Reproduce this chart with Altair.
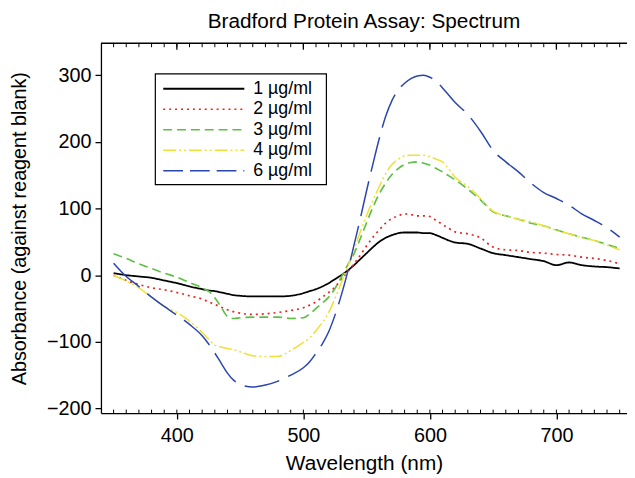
import altair as alt
import pandas as pd

FONT = "Liberation Sans"

# ---------------- data ----------------
series = ["1 µg/ml", "2 µg/ml", "3 µg/ml", "4 µg/ml", "6 µg/ml"]
colors = ["#000000", "#e8231f", "#5cbf45", "#efe03a", "#2a45ad"]
widths = [1.8, 1.5, 1.5, 1.6, 1.5]
dashes = [[1, 0], [2, 4], [9, 5], [13, 3, 2, 3, 2, 3], [36, 10]]
legend_dashes = [[1, 0], [2, 4], [9, 5], [13, 3, 2, 3, 2, 3], [20, 7]]

wavelengths = [350, 360, 370, 380, 390, 400, 410, 420,
               425, 430, 435, 440, 445, 450,
               460, 470, 480, 490, 500,
               505, 510, 515, 520, 525, 530, 535, 540, 545, 550, 555, 560,
               565, 570, 575, 580, 585, 590, 595, 600, 605, 610, 615, 620,
               630, 640, 650, 660, 670, 680, 690, 700, 710, 720, 730, 740, 750]

ug1 = [3, 0, -2, -4, -8, -12, -17, -21,
       -23, -24, -26, -28, -30, -31,
       -32, -32, -32, -31, -27,
       -24, -21, -17, -12, -6, 0, 7, 15, 24, 33, 42, 50,
       56, 60, 63, 64, 64, 64, 63, 63, 60, 56, 52, 49,
       47, 40, 33, 30, 27, 24, 21, 15, 19, 15, 13, 12, 10]

ug2 = [0, -8, -14, -19, -22, -26, -31, -36,
       -40, -44, -48, -52, -55, -57,
       -59, -58, -56, -53, -49,
       -45, -40, -33, -26, -18, -6, 5, 17, 30, 44, 57, 68,
       78, 85, 89, 92, 91, 89, 89, 88, 82, 76, 70, 65,
       62, 56, 42, 38, 37, 34, 33, 31, 30, 27, 25, 22, 17]

ug3 = [32, 25, 17, 10, 3, -3, -11, -19,
       -24, -34, -48, -62, -65, -64,
       -63, -63, -63, -65, -64,
       -58, -50, -42, -33, -20, -3, 15, 32, 55, 79, 102, 122,
       138, 151, 160, 166, 169, 170, 168, 165, 160, 155, 149, 143,
       129, 113, 95, 89, 84, 78, 74, 68, 62, 57, 52, 46, 40]

ug4 = [0, -9, -19, -33, -47, -56, -69, -86,
       -96, -105, -108, -110, -112, -115,
       -121, -122, -122, -113, -101,
       -94, -83, -71, -56, -35, -11, 12, 38, 65, 90, 112, 133,
       152, 166, 174, 179, 180, 180, 180, 178, 174, 170, 159, 147,
       133, 115, 96, 89, 84, 80, 74, 67, 62, 56, 52, 45, 38]

ug6 = [18, -2, -17, -33, -47, -60, -74, -91,
       -103, -117, -132, -147, -158, -164,
       -168, -165, -159, -150, -139,
       -130, -117, -103, -85, -60, -30, 5, 45, 85, 127, 167, 205,
       238, 262, 278, 288, 295, 299, 300, 297, 291, 281, 270, 259,
       241, 216, 187, 170, 155, 138, 124, 115, 105, 92, 82, 71, 57]

minor_ticks = [350, 360, 370, 380, 390, 400, 410, 420, 430, 440, 450, 460, 470,
               480, 490, 500, 510, 520, 530, 540, 550, 560, 570, 580, 590, 600,
               610, 620, 630, 640, 650, 660, 670, 680, 690, 700, 710, 720, 730,
               740, 750]
major_ticks = [400, 500, 600, 700]
y_ticks = [-200, -100, 0, 100, 200, 300]

rows = []
for name, vals in zip(series, [ug1, ug2, ug3, ug4, ug6]):
    for wl, v in zip(wavelengths, vals):
        rows.append({"wl": wl, "value": v, "series": name})
df = pd.DataFrame(rows)
minor_df = pd.DataFrame({"wl": minor_ticks})
major_df = pd.DataFrame({"wl": major_ticks})
legend_df = pd.DataFrame({"series": series})
one_df = pd.DataFrame({"a": [0]})

# ---------------- layout ----------------
W, H = 532, 374

x_scale = alt.Scale(domain=[340, 755.8], nice=False, zero=False)
y_scale = alt.Scale(domain=[-207, 348], nice=False, zero=False)
x_axis = alt.Axis(values=major_ticks, title="Wavelength (nm)", tickSize=6,
                  labelPadding=7, titlePadding=7, titleFontSize=21, grid=False, format="d")
X = alt.X("wl:Q", scale=x_scale, axis=x_axis)

color_enc = alt.Color("series:N", scale=alt.Scale(domain=series, range=colors), legend=None)
width_enc = alt.StrokeWidth("series:N", scale=alt.Scale(domain=series, range=widths), legend=None)

lines = alt.Chart(df).mark_line(interpolate="monotone", clip=True).encode(
    x=X,
    y=alt.Y("value:Q", scale=y_scale,
            axis=alt.Axis(values=y_ticks, title="Absorbance (against reagent blank)",
                          tickSize=6, labelPadding=4, titlePadding=17, grid=False)),
    color=color_enc,
    strokeWidth=width_enc,
    strokeDash=alt.StrokeDash("series:N", scale=alt.Scale(domain=series, range=dashes), legend=None),
)

top_minor = alt.Chart(minor_df).mark_rule(color="black", strokeWidth=1).encode(
    x=X, y=alt.value(0), y2=alt.value(4))
top_major = alt.Chart(major_df).mark_rule(color="black", strokeWidth=1.3).encode(
    x=X, y=alt.value(0), y2=alt.value(6.5))
bottom_minor = alt.Chart(minor_df).mark_rule(color="black", strokeWidth=1).encode(
    x=X, y=alt.value(H), y2=alt.value(H - 3.5))
top_line = alt.Chart(one_df).mark_rule(color="black", strokeWidth=1.3).encode(
    x=alt.value(0), x2=alt.value(W), y=alt.value(0))

legend_box = alt.Chart(one_df).mark_rect(fillOpacity=0, stroke="black", strokeWidth=1.2).encode(
    x=alt.value(55), x2=alt.value(228), y=alt.value(31), y2=alt.value(143))

LY = alt.Y("series:N", scale=alt.Scale(type="point", domain=series, range=[46, 129], padding=0), axis=None)
legend_lines = alt.Chart(legend_df).mark_rule().encode(
    x=alt.value(63), x2=alt.value(145), y=LY, color=color_enc, strokeWidth=width_enc,
    strokeDash=alt.StrokeDash("series:N", scale=alt.Scale(domain=series, range=legend_dashes), legend=None))
legend_text = alt.Chart(legend_df).mark_text(align="left", baseline="middle", fontSize=18,
                                             font=FONT, color="black").encode(
    x=alt.value(154), y=LY, text="series:N")

chart = alt.layer(
    lines, top_minor, top_major, bottom_minor, top_line, legend_box, legend_lines, legend_text
).resolve_scale(
    y="independent", strokeDash="independent"
).properties(
    width=W, height=H,
    padding={"left": 94, "top": 33, "right": 0, "bottom": 62},
    autosize=alt.AutoSizeParams(type="none"),
    title=alt.Title("Bradford Protein Assay: Spectrum", font=FONT, fontSize=21,
                    fontWeight="normal", color="black", anchor="middle",
                    baseline="top", offset=11),
).configure_view(stroke=None).configure_axis(
    labelFont=FONT, titleFont=FONT, labelColor="black", titleColor="black",
    domainColor="black", tickColor="black", labelFontSize=20, titleFontSize=20,
    titleFontWeight="normal", domainWidth=1.3, tickWidth=1.3, grid=False,
)

chart.save("out.html", embed_options={"renderer": "svg", "actions": False})
